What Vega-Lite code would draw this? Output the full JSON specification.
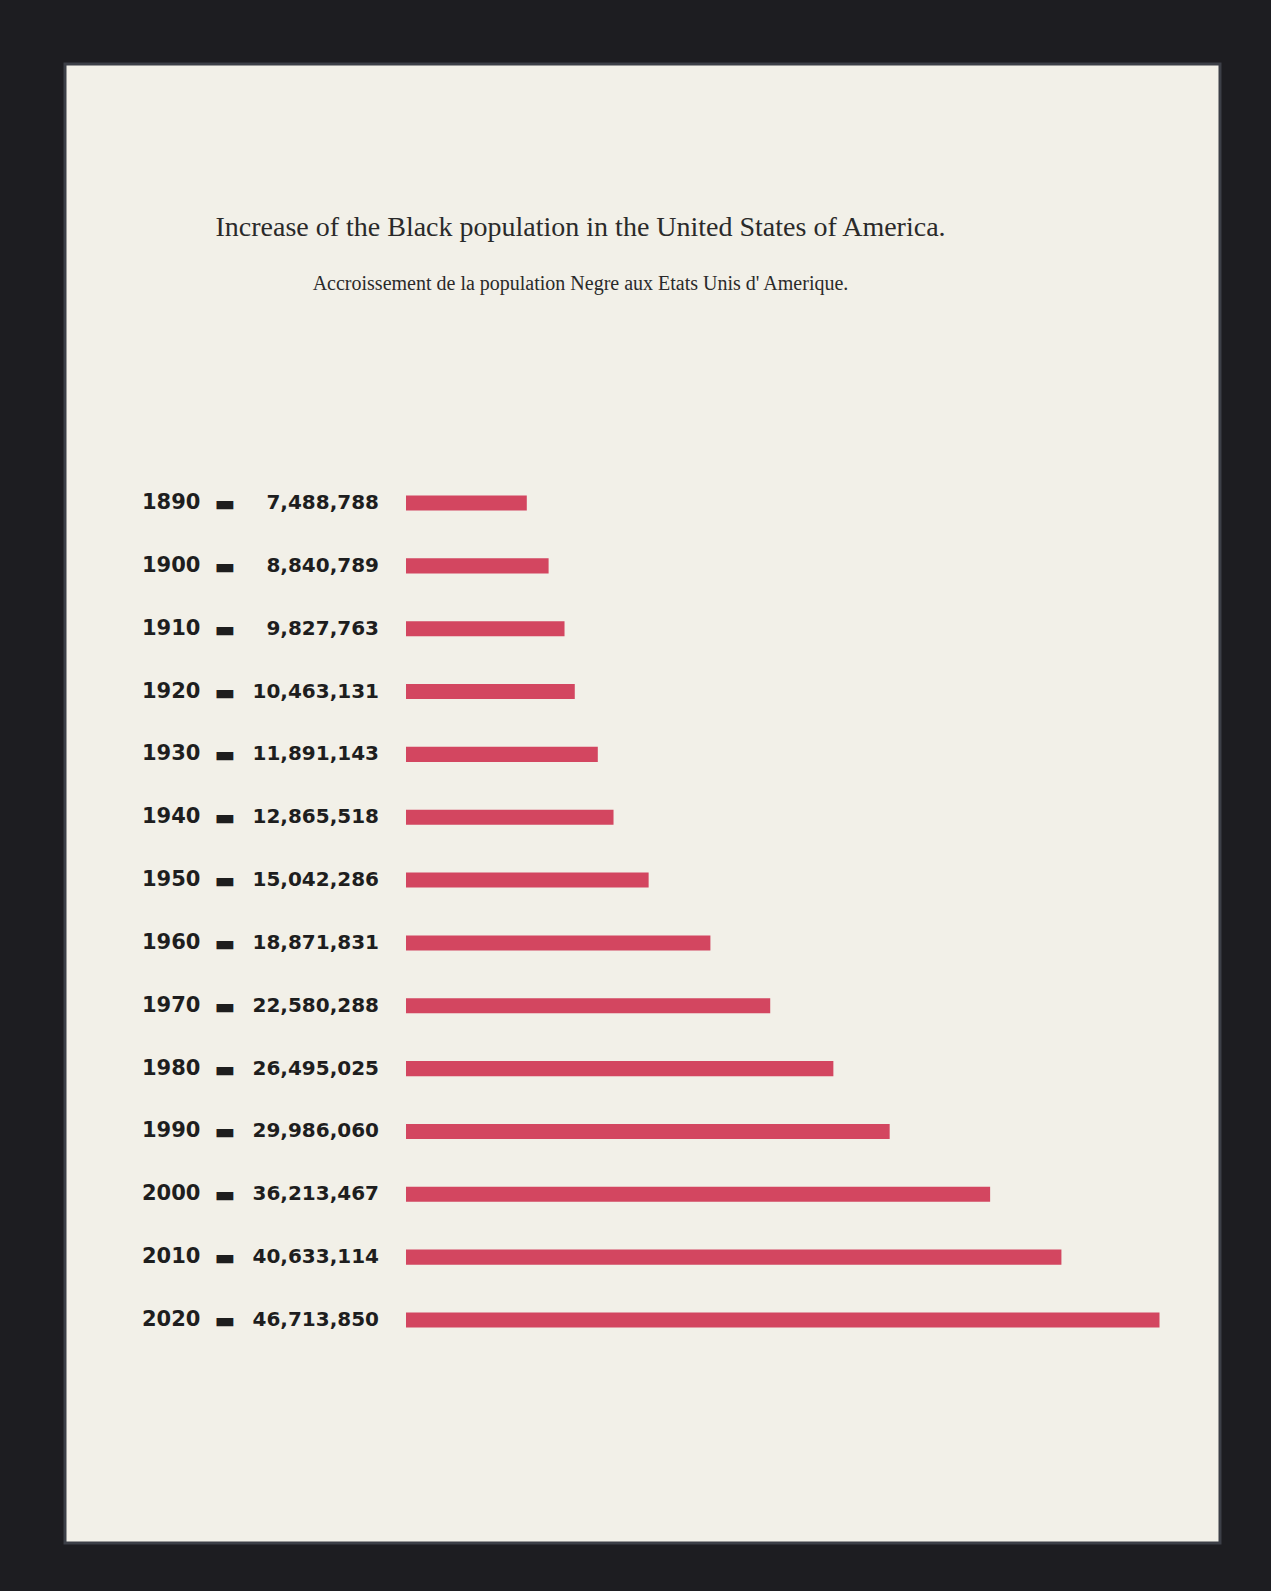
{
  "$schema": "https://vega.github.io/schema/vega-lite/v6.json",
  "width": 1155,
  "height": 1479,
  "autosize": {"type": "none"},
  "padding": {"left": 65, "top": 64, "right": 51, "bottom": 48},
  "background": "#1d1d21",
  "config": {
    "view": {"fill": "#f2f0e8", "stroke": "#3c3f47", "strokeWidth": 3}
  },
  "title": {
    "text": "Increase of the Black population in the United States of America.",
    "subtitle": "Accroissement de  la  population Negre aux  Etats  Unis  d' Amerique.",
    "anchor": "middle",
    "frame": "group",
    "offset": -230,
    "dx": -62,
    "font": "Liberation Serif",
    "fontSize": 28,
    "fontWeight": "normal",
    "color": "#2a2a2a",
    "subtitleFont": "Liberation Serif",
    "subtitleFontSize": 20,
    "subtitleColor": "#2a2a2a",
    "subtitlePadding": 32
  },
  "data": {
    "values": [
      {"year": "1890", "population": 7488788},
      {"year": "1900", "population": 8840789},
      {"year": "1910", "population": 9827763},
      {"year": "1920", "population": 10463131},
      {"year": "1930", "population": 11891143},
      {"year": "1940", "population": 12865518},
      {"year": "1950", "population": 15042286},
      {"year": "1960", "population": 18871831},
      {"year": "1970", "population": 22580288},
      {"year": "1980", "population": 26495025},
      {"year": "1990", "population": 29986060},
      {"year": "2000", "population": 36213467},
      {"year": "2010", "population": 40633114},
      {"year": "2020", "population": 46713850}
    ]
  },
  "encoding": {
    "y": {
      "field": "year",
      "type": "ordinal",
      "sort": "ascending",
      "axis": null,
      "scale": {"range": [407.6, 1287.4], "paddingInner": 0.76, "paddingOuter": 0.38}
    }
  },
  "layer": [
    {
      "mark": {"type": "bar", "color": "#d13c58", "opacity": 0.95},
      "encoding": {
        "x": {
          "field": "population",
          "type": "quantitative",
          "axis": null,
          "scale": {"domain": [0, 50000000], "range": [341, 1147.5], "nice": false, "zero": true}
        }
      }
    },
    {
      "mark": {"type": "text", "align": "left", "baseline": "middle", "dx": -264, "font": "DejaVu Sans", "fontWeight": "bold", "fontSize": 21, "color": "#1e1e1e"},
      "encoding": {
        "x": {"datum": 0, "type": "quantitative"},
        "text": {"field": "year", "type": "nominal"}
      }
    },
    {
      "mark": {"type": "text", "align": "center", "baseline": "middle", "dx": -181, "dy": 1, "font": "DejaVu Sans", "fontWeight": "bold", "fontSize": 22, "color": "#1e1e1e", "text": "▬"},
      "encoding": {
        "x": {"datum": 0, "type": "quantitative"}
      }
    },
    {
      "mark": {"type": "text", "align": "right", "baseline": "middle", "dx": -27, "font": "DejaVu Sans", "fontWeight": "bold", "fontSize": 20, "color": "#1e1e1e"},
      "encoding": {
        "x": {"datum": 0, "type": "quantitative"},
        "text": {"field": "population", "type": "quantitative", "format": ","}
      }
    }
  ]
}
